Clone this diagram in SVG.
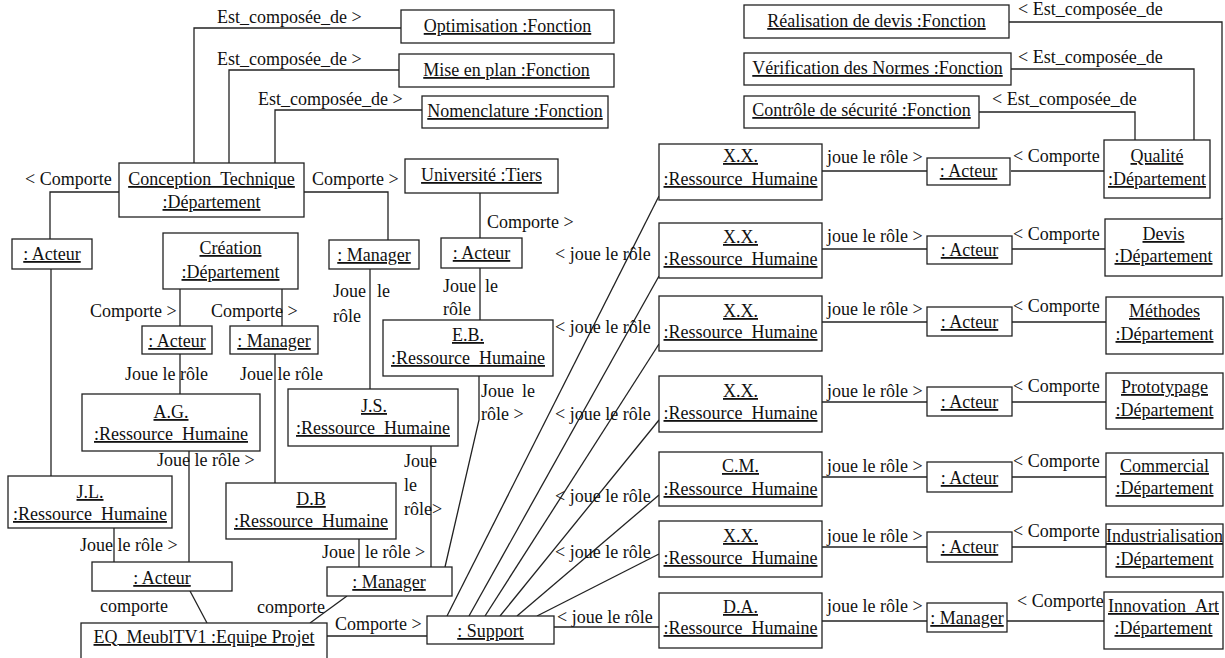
<svg xmlns="http://www.w3.org/2000/svg" width="1225" height="658" viewBox="0 0 1225 658">
<style>
text{font-family:"Liberation Serif","Times New Roman",serif;font-size:18px;fill:#111}
.n text{text-anchor:middle;text-decoration:underline}
.n rect{fill:#fff;stroke:#222;stroke-width:1.3}
#connectors polyline,#connectors line{fill:none;stroke:#222;stroke-width:1.3}
</style>
<rect width="1225" height="658" fill="#fff"/>
<g id="connectors">
<polyline points="194,163 194,28 401,28"/>
<polyline points="229,163 229,70 399,70"/>
<polyline points="275,163 275,110 422,110"/>
<polyline points="119,192 50,192 50,239"/>
<polyline points="304,192 388,192 388,240"/>
<line x1="51" y1="269" x2="51" y2="476"/>
<line x1="180" y1="289" x2="180" y2="326"/>
<line x1="282" y1="289" x2="282" y2="326"/>
<line x1="370" y1="269" x2="370" y2="389"/>
<line x1="480" y1="193" x2="480" y2="238"/>
<line x1="480" y1="268" x2="480" y2="320"/>
<line x1="180" y1="354" x2="180" y2="394"/>
<line x1="275" y1="354" x2="275" y2="483"/>
<line x1="189" y1="451" x2="189" y2="562"/>
<line x1="114" y1="528" x2="114" y2="562"/>
<line x1="359" y1="539" x2="359" y2="567"/>
<line x1="431" y1="446" x2="431" y2="567"/>
<polyline points="479,376 479,420 445,567"/>
<line x1="190" y1="591" x2="207" y2="623"/>
<line x1="347" y1="596" x2="310" y2="623"/>
<line x1="327" y1="636" x2="427" y2="636"/>
<line x1="447" y1="616" x2="659" y2="196"/>
<line x1="469" y1="616" x2="659" y2="276"/>
<line x1="485" y1="616" x2="659" y2="344"/>
<line x1="500" y1="616" x2="659" y2="420"/>
<line x1="517" y1="616" x2="659" y2="495"/>
<line x1="537" y1="616" x2="659" y2="554"/>
<line x1="554" y1="627" x2="659" y2="627"/>
<line x1="822" y1="171" x2="927" y2="171"/>
<line x1="822" y1="249" x2="927" y2="249"/>
<line x1="822" y1="322" x2="927" y2="322"/>
<line x1="822" y1="402" x2="927" y2="402"/>
<line x1="822" y1="477" x2="927" y2="477"/>
<line x1="822" y1="547" x2="927" y2="547"/>
<line x1="822" y1="621" x2="927" y2="621"/>
<line x1="1011" y1="171" x2="1104" y2="171"/>
<line x1="1012" y1="249" x2="1105" y2="249"/>
<line x1="1012" y1="322" x2="1106" y2="322"/>
<line x1="1012" y1="402" x2="1106" y2="402"/>
<line x1="1012" y1="477" x2="1106" y2="477"/>
<line x1="1012" y1="547" x2="1106" y2="547"/>
<line x1="1007" y1="621" x2="1104" y2="621"/>
<polyline points="1009,22 1222,22 1222,219"/>
<polyline points="1011,69 1194,69 1194,140"/>
<polyline points="979,112 1135,112 1135,140"/>
</g>
<g id="labels">
<text x="217" y="23">Est_composée_de &gt;</text>
<text x="217" y="65">Est_composée_de &gt;</text>
<text x="258" y="105">Est_composée_de &gt;</text>
<text x="25" y="185">&lt; Comporte</text>
<text x="312" y="185">Comporte &gt;</text>
<text x="90" y="317">Comporte &gt;</text>
<text x="211" y="317">Comporte &gt;</text>
<text x="125" y="380">Joue le rôle</text>
<text x="240" y="380">Joue le rôle</text>
<text x="333" y="297">Joue</text>
<text x="377" y="297">le</text>
<text x="333" y="322">rôle</text>
<text x="487" y="228">Comporte &gt;</text>
<text x="443" y="292">Joue</text>
<text x="485" y="292">le</text>
<text x="443" y="315">rôle</text>
<text x="481" y="397">Joue</text>
<text x="522" y="397">le</text>
<text x="481" y="420">rôle &gt;</text>
<text x="157" y="466">Joue le rôle &gt;</text>
<text x="404" y="467">Joue</text>
<text x="404" y="491">le</text>
<text x="404" y="515">rôle&gt;</text>
<text x="80" y="551">Joue le rôle &gt;</text>
<text x="322" y="558">Joue</text>
<text x="365" y="558">le rôle &gt;</text>
<text x="100" y="612">comporte</text>
<text x="257" y="613">comporte</text>
<text x="335" y="630">Comporte &gt;</text>
<text x="555" y="260">&lt; joue le rôle</text>
<text x="555" y="333">&lt; joue le rôle</text>
<text x="555" y="420">&lt; joue le rôle</text>
<text x="555" y="502">&lt; joue le rôle</text>
<text x="555" y="558">&lt; joue le rôle</text>
<text x="557" y="623">&lt; joue le rôle</text>
<text x="827" y="163">joue le rôle &gt;</text>
<text x="827" y="242">joue le rôle &gt;</text>
<text x="827" y="315">joue le rôle &gt;</text>
<text x="827" y="397">joue le rôle &gt;</text>
<text x="827" y="472">joue le rôle &gt;</text>
<text x="827" y="542">joue le rôle &gt;</text>
<text x="827" y="612">joue le rôle &gt;</text>
<text x="1013" y="162">&lt; Comporte</text>
<text x="1013" y="240">&lt; Comporte</text>
<text x="1013" y="312">&lt; Comporte</text>
<text x="1013" y="392">&lt; Comporte</text>
<text x="1013" y="467">&lt; Comporte</text>
<text x="1013" y="537">&lt; Comporte</text>
<text x="1017" y="607">&lt; Comporte</text>
<text x="1018" y="15">&lt; Est_composée_de</text>
<text x="1018" y="63">&lt; Est_composée_de</text>
<text x="992" y="105">&lt; Est_composée_de</text>
</g>
<g id="optim" class="n"><rect x="401" y="10" width="213" height="33"/><text x="507.5" y="32">Optimisation :Fonction</text></g>
<g id="miseplan" class="n"><rect x="399" y="54" width="215" height="33"/><text x="506.5" y="76">Mise en plan :Fonction</text></g>
<g id="nomen" class="n"><rect x="422" y="96" width="186" height="32"/><text x="515" y="117">Nomenclature :Fonction</text></g>
<g id="univ" class="n"><rect x="405" y="159" width="153" height="34"/><text x="481.5" y="181">Université :Tiers</text></g>
<g id="concep" class="n"><rect x="119" y="163" width="185" height="54"/><text x="211.5" y="185">Conception_Technique</text><text x="211.5" y="208">:Département</text></g>
<g id="acteurL" class="n"><rect x="12" y="239" width="80" height="30"/><text x="52" y="260">: Acteur</text></g>
<g id="creation" class="n"><rect x="163" y="233" width="135" height="56"/><text x="230.5" y="254">Création</text><text x="230.5" y="278">:Département</text></g>
<g id="managerT" class="n"><rect x="329" y="240" width="90" height="29"/><text x="374" y="261">: Manager</text></g>
<g id="acteurU" class="n"><rect x="441" y="238" width="81" height="30"/><text x="481.5" y="259">: Acteur</text></g>
<g id="acteurS" class="n"><rect x="142" y="326" width="70" height="28"/><text x="177" y="347">: Acteur</text></g>
<g id="managerS" class="n"><rect x="230" y="326" width="88" height="28"/><text x="274" y="347">: Manager</text></g>
<g id="eb" class="n"><rect x="383" y="320" width="170" height="56"/><text x="468" y="341">E.B.</text><text x="468" y="364">:Ressource_Humaine</text></g>
<g id="ag" class="n"><rect x="82" y="394" width="178" height="57"/><text x="171" y="418">A.G.</text><text x="171" y="440">:Ressource_Humaine</text></g>
<g id="js" class="n"><rect x="288" y="389" width="170" height="57"/><text x="374" y="412">J.S.</text><text x="373" y="434">:Ressource_Humaine</text></g>
<g id="jl" class="n"><rect x="8" y="476" width="164" height="52"/><text x="90" y="498">J.L.</text><text x="90" y="520">:Ressource_Humaine</text></g>
<g id="db" class="n"><rect x="226" y="483" width="170" height="56"/><text x="311" y="505">D.B</text><text x="311" y="527">:Ressource_Humaine</text></g>
<g id="acteurB" class="n"><rect x="92" y="562" width="140" height="29"/><text x="162" y="584">: Acteur</text></g>
<g id="managerB" class="n"><rect x="327" y="567" width="125" height="29"/><text x="389" y="588">: Manager</text></g>
<g id="eq" class="n"><rect x="81" y="623" width="246" height="45"/><text x="204" y="643">EQ_MeublTV1 :Equipe Projet</text></g>
<g id="support" class="n"><rect x="427" y="616" width="127" height="28"/><text x="490.5" y="637">: Support</text></g>
<g id="xx1" class="n"><rect x="659" y="144" width="163" height="56"/><text x="740.5" y="162">X.X.</text><text x="740.5" y="185">:Ressource_Humaine</text></g>
<g id="xx2" class="n"><rect x="659" y="223" width="163" height="55"/><text x="740.5" y="243">X.X.</text><text x="740.5" y="265">:Ressource_Humaine</text></g>
<g id="xx3" class="n"><rect x="659" y="296" width="163" height="55"/><text x="740.5" y="317">X.X.</text><text x="740.5" y="338">:Ressource_Humaine</text></g>
<g id="xx4" class="n"><rect x="659" y="376" width="163" height="56"/><text x="740.5" y="397">X.X.</text><text x="740.5" y="419">:Ressource_Humaine</text></g>
<g id="cm" class="n"><rect x="659" y="452" width="163" height="54"/><text x="740.5" y="472">C.M.</text><text x="740.5" y="495">:Ressource_Humaine</text></g>
<g id="xx6" class="n"><rect x="659" y="521" width="163" height="56"/><text x="740.5" y="542">X.X.</text><text x="740.5" y="564">:Ressource_Humaine</text></g>
<g id="da" class="n"><rect x="659" y="593" width="163" height="55"/><text x="740.5" y="613">D.A.</text><text x="740.5" y="634">:Ressource_Humaine</text></g>
<g id="a1" class="n"><rect x="927" y="158" width="83" height="27"/><text x="968.5" y="177">: Acteur</text></g>
<g id="a2" class="n"><rect x="927" y="236" width="85" height="28"/><text x="969.5" y="256">: Acteur</text></g>
<g id="a3" class="n"><rect x="927" y="307" width="85" height="29"/><text x="969.5" y="328">: Acteur</text></g>
<g id="a4" class="n"><rect x="927" y="387" width="85" height="29"/><text x="969.5" y="408">: Acteur</text></g>
<g id="a5" class="n"><rect x="927" y="462" width="85" height="30"/><text x="969.5" y="484">: Acteur</text></g>
<g id="a6" class="n"><rect x="927" y="532" width="85" height="30"/><text x="969.5" y="553">: Acteur</text></g>
<g id="m7" class="n"><rect x="927" y="603" width="80" height="29"/><text x="967" y="624">: Manager</text></g>
<g id="qualite" class="n"><rect x="1104" y="140" width="106" height="58"/><text x="1157" y="162">Qualité</text><text x="1157" y="185">:Département</text></g>
<g id="devis" class="n"><rect x="1105" y="219" width="117" height="57"/><text x="1163.5" y="240">Devis</text><text x="1163.5" y="262">:Département</text></g>
<g id="methodes" class="n"><rect x="1106" y="297" width="117" height="57"/><text x="1164.5" y="317">Méthodes</text><text x="1164.5" y="340">:Département</text></g>
<g id="proto" class="n"><rect x="1106" y="373" width="117" height="56"/><text x="1164.5" y="393">Prototypage</text><text x="1164.5" y="416">:Département</text></g>
<g id="commercial" class="n"><rect x="1106" y="453" width="117" height="53"/><text x="1164.5" y="472">Commercial</text><text x="1164.5" y="494">:Département</text></g>
<g id="indus" class="n"><rect x="1106" y="524" width="117" height="53"/><text x="1164.5" y="542">Industrialisation</text><text x="1164.5" y="565">:Département</text></g>
<g id="innov" class="n"><rect x="1104" y="592" width="119" height="57"/><text x="1163.5" y="612">Innovation_Art</text><text x="1163.5" y="634">:Département</text></g>
<g id="realisation" class="n"><rect x="744" y="5" width="265" height="33"/><text x="876.5" y="27">Réalisation de devis :Fonction</text></g>
<g id="verif" class="n"><rect x="744" y="53" width="267" height="32"/><text x="877.5" y="74">Vérification des Normes :Fonction</text></g>
<g id="controle" class="n"><rect x="744" y="96" width="235" height="32"/><text x="861.5" y="116">Contrôle de sécurité :Fonction</text></g>
</svg>
